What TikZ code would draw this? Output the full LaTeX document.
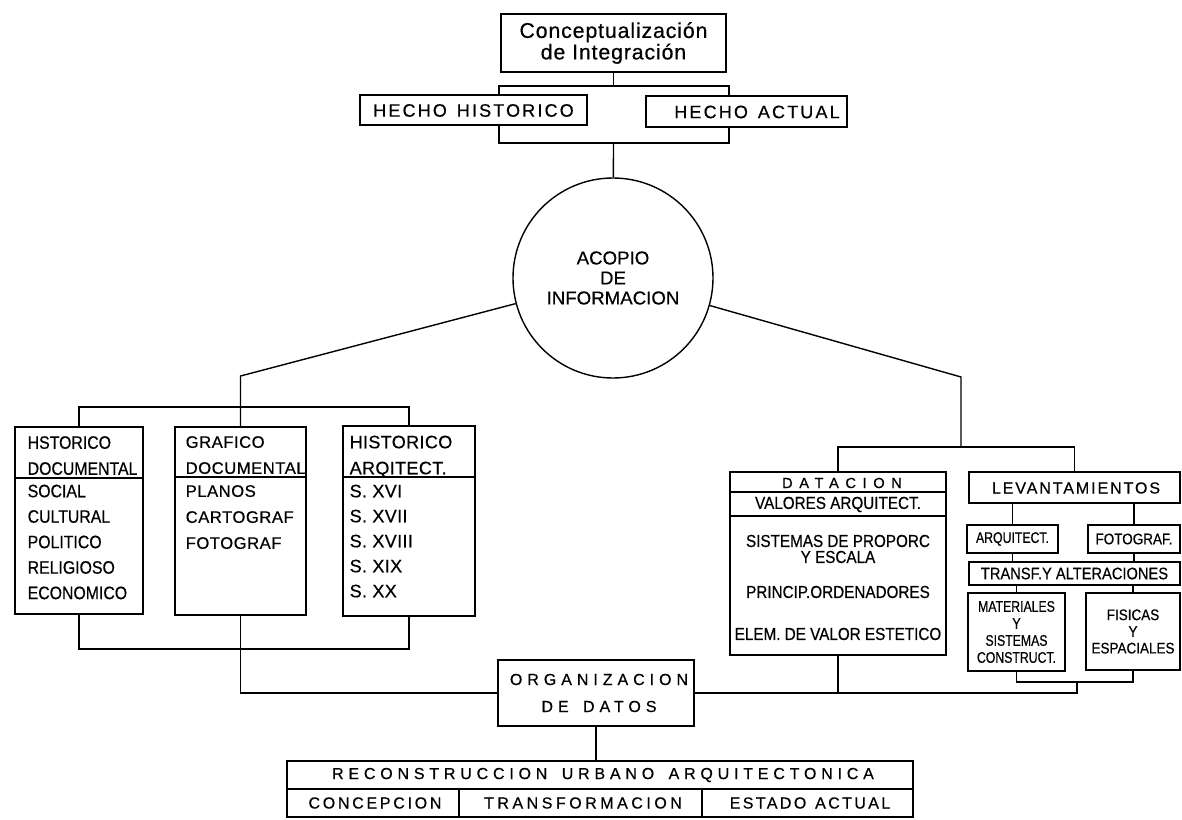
\documentclass[tikz,border=0pt]{standalone}
\usepackage{fontspec}
\setmainfont{Liberation Sans}[FakeBold=0.5]
\newfontfamily\nar{Liberation Sans}[FakeStretch=0.88,FakeBold=0.5]
\newfontfamily\narr{Liberation Sans}[FakeStretch=0.8,FakeBold=0.5]
\newcommand\lsp[1]{\addfontfeature{LetterSpace=#1}}
\newcommand\fsz[2]{\fontsize{#1}{#2}\selectfont}
\newcommand\wsp{\hspace*{0.9em}}
\newcommand\wss{\hspace*{0.55em}}
\usetikzlibrary{fit}
\begin{document}
\begin{tikzpicture}[x=0.75pt,y=-0.75pt,line width=1.05pt,
  bx/.style={draw,inner sep=0pt,fit={#1}},
  lbl/.style={inner sep=0pt,align=center},
  lft/.style={inner sep=0pt,align=left,anchor=north west}]
\useasboundingbox (0,0) rectangle (1182,820);

% helper coordinates
\coordinate (hT) at (499,86);  \coordinate (hT2) at (729,86);
\coordinate (hB) at (499,143); \coordinate (hB2) at (729,143);
\coordinate (ld) at (240.5,376);
\coordinate (lbT) at (0,407);
\coordinate (lbB) at (0,649);
\coordinate (dv1) at (0,478);
\coordinate (dv2) at (0,477);
\coordinate (rd) at (961,377);
\coordinate (rbT) at (0,447);
\coordinate (dd1) at (0,492);
\coordinate (dd2) at (0,516);
\coordinate (rbB) at (0,682);
\coordinate (rm) at (1077,682);
\coordinate (rcd) at (0,789);
\coordinate (c1) at (459,0);
\coordinate (c2) at (702,0);

% top
\node[bx={(501,14) (726,72)}] (top) {};
\node[lbl,font={\fsz{16}{15}\lsp{4}}] (topT) at (top.center) {Conceptualización\\de Integración};
\node[bx={(360,95) (587,125)}] (hh) {};
\node[lbl,font={\fsz{13.5}{15}\lsp{12}}] (hhT) at (473.5,110.5) {HECHO\wss HISTORICO};
\node[bx={(646,96) (847,127)}] (ha) {};
\node[lbl,font={\fsz{13.5}{15}\lsp{12}}] (haT) at (757,112) {HECHO\wss ACTUAL};

\node[circle,draw,minimum size=150pt,inner sep=0pt,align=center,font={\fsz{14}{15}}] (acopio) at (613,278) {ACOPIO\\DE\\INFORMACION};

% left group
\node[bx={(15,427) (143,614)}] (b1) {};
\node[bx={(175,427) (306,615)}] (b2) {};
\node[bx={(343,426) (475,616)}] (b3) {};
\draw (b1.west |- dv1) -- (b1.east |- dv1);
\draw (b2.west |- dv2) -- (b2.east |- dv2);
\draw (b3.west |- dv2) -- (b3.east |- dv2);
\node[lft,font={\nar\fsz{13.5}{19.5}}] (b1h) at (27,435.5) {HSTORICO\\DOCUMENTAL};
\node[lft,font={\nar\fsz{13.5}{19.1}}] (b1t) at (27,484) {SOCIAL\\CULTURAL\\POLITICO\\RELIGIOSO\\ECONOMICO};
\node[lft,font={\fsz{12.5}{19.5}\lsp{3}}] (b2h) at (185,435.5) {GRAFICO\\DOCUMENTAL};
\node[lft,font={\fsz{12.5}{19.5}\lsp{3}}] (b2t) at (185,484.5) {PLANOS\\CARTOGRAF\\FOTOGRAF};
\node[lft,font={\fsz{13.5}{19.5}\lsp{2}}] (b3h) at (349,435) {HISTORICO\\ARQITECT.};
\node[lft,font={\fsz{13.5}{18.75}\lsp{2}}] (b3t) at (349,484) {S. XVI\\S. XVII\\S. XVIII\\S. XIX\\S. XX};

% right group
\node[bx={(730,472) (946,655)}] (dat) {};
\draw (dat.west |- dd1) -- (dat.east |- dd1);
\draw (dat.west |- dd2) -- (dat.east |- dd2);
\node[lbl,font={\fsz{11}{12}\lsp{45}}] (datT) at (842,483) {DATACION};
\node[lbl,font={\nar\fsz{13}{14}}] (val) at (838,504.5) {VALORES ARQUITECT.};
\node[lbl,font={\nar\fsz{13}{12}}] (sis) at (838,549) {SISTEMAS DE PROPORC\\Y ESCALA};
\node[lbl,font={\nar\fsz{13}{14}}] (pri) at (838,592) {PRINCIP.ORDENADORES};
\node[lbl,font={\nar\fsz{13}{14}}] (ele) at (838,634) {ELEM. DE VALOR ESTETICO};

\node[bx={(969,472) (1180,503)}] (lev) {};
\node[lbl,font={\fsz{12}{13}\lsp{12}}] (levT) at (1076,488) {LEVANTAMIENTOS};
\node[bx={(967,525) (1058,553)}] (arq) {};
\node[lbl,font={\narr\fsz{11.5}{12}}] (arqT) at (arq.center) {ARQUITECT.};
\node[bx={(1088,525) (1180,553)}] (fot) {};
\node[lbl,font={\nar\fsz{11.5}{12}}] (fotT) at (fot.center) {FOTOGRAF.};
\node[bx={(969,562) (1180,585)}] (trf) {};
\node[lbl,font={\nar\fsz{12.5}{13}}] (trfT) at (trf.center) {TRANSF.Y ALTERACIONES};
\node[bx={(968,593) (1065,671)}] (mat) {};
\node[lbl,font={\narr\fsz{11.5}{12.75}}] (matT) at (mat.center) {MATERIALES\\Y\\SISTEMAS\\CONSTRUCT.};
\node[bx={(1086,593) (1180,670)}] (fis) {};
\node[lbl,font={\nar\fsz{11.5}{12.5}}] (fisT) at (fis.center) {FISICAS\\Y\\ESPACIALES};

% organizacion & reconstruccion
\node[bx={(498,660) (694,726)}] (org) {};
\node[lbl,font={\fsz{12}{20.25}\lsp{31}}] (orgT) at (599,693) {ORGANIZACION\\DE\wsp DATOS};
\node[bx={(287,761) (913,817)}] (rec) {};
\draw (rec.west |- rcd) -- (rec.east |- rcd);
\draw (c1 |- rcd) -- (c1 |- rec.south);
\draw (c2 |- rcd) -- (c2 |- rec.south);
\node[lbl,font={\fsz{12}{13}\lsp{30}}] (recT) at (603,775) {RECONSTRUCCION\wsp URBANO\wsp ARQUITECTONICA};
\node[lbl,font={\fsz{12}{13}\lsp{17}}] (con) at (375,803) {CONCEPCION};
\node[lbl,font={\fsz{12}{13}\lsp{22}}] (trn) at (583,803) {TRANSFORMACION};
\node[lbl,font={\fsz{12}{13}\lsp{15}}] (est) at (810,803) {ESTADO\wss ACTUAL};

% connectors top
\draw (top.south) -- (top.south |- hT);
\draw (hh.north -| hT) -- (hT) -- (hT2) -- (ha.north -| hT2);
\draw (hh.south -| hB) -- (hB) -- (hB2) -- (ha.south -| hB2);
\draw (top.south |- hB) -- (acopio);

% connectors left
\draw (acopio) -- (ld) -- (b2.north);
\draw (b1.north) -- (b1.north |- lbT) -- (b3.north |- lbT) -- (b3.north);
\draw (b1.south) -- (b1.south |- lbB) -- (b3.south |- lbB) -- (b3.south);
\draw (b2.south) |- (org.west);

% connectors right
\draw (acopio) -- (rd) -- (rd |- rbT);
\draw (dat.north) -- (dat.north |- rbT) -- (lev.north |- rbT) -- (lev.north);
\draw (lev.south -| arq.north) -- (arq.north);
\draw (lev.south -| fot.north) -- (fot.north);
\draw (arq.south) -- (arq.south |- trf.north);
\draw (fot.south) -- (fot.south |- trf.north);
\draw (trf.south -| mat.north) -- (mat.north);
\draw (trf.south -| fis.north) -- (fis.north);
\draw (mat.south) -- (mat.south |- rbB) -- (fis.south |- rbB) -- (fis.south);
\draw (rm) -- (rm |- org.east) -- (org.east);
\draw (dat.south) -- (dat.south |- org.east);
\draw (org.south) -- (org.south |- rec.north);
\end{tikzpicture}
\end{document}
